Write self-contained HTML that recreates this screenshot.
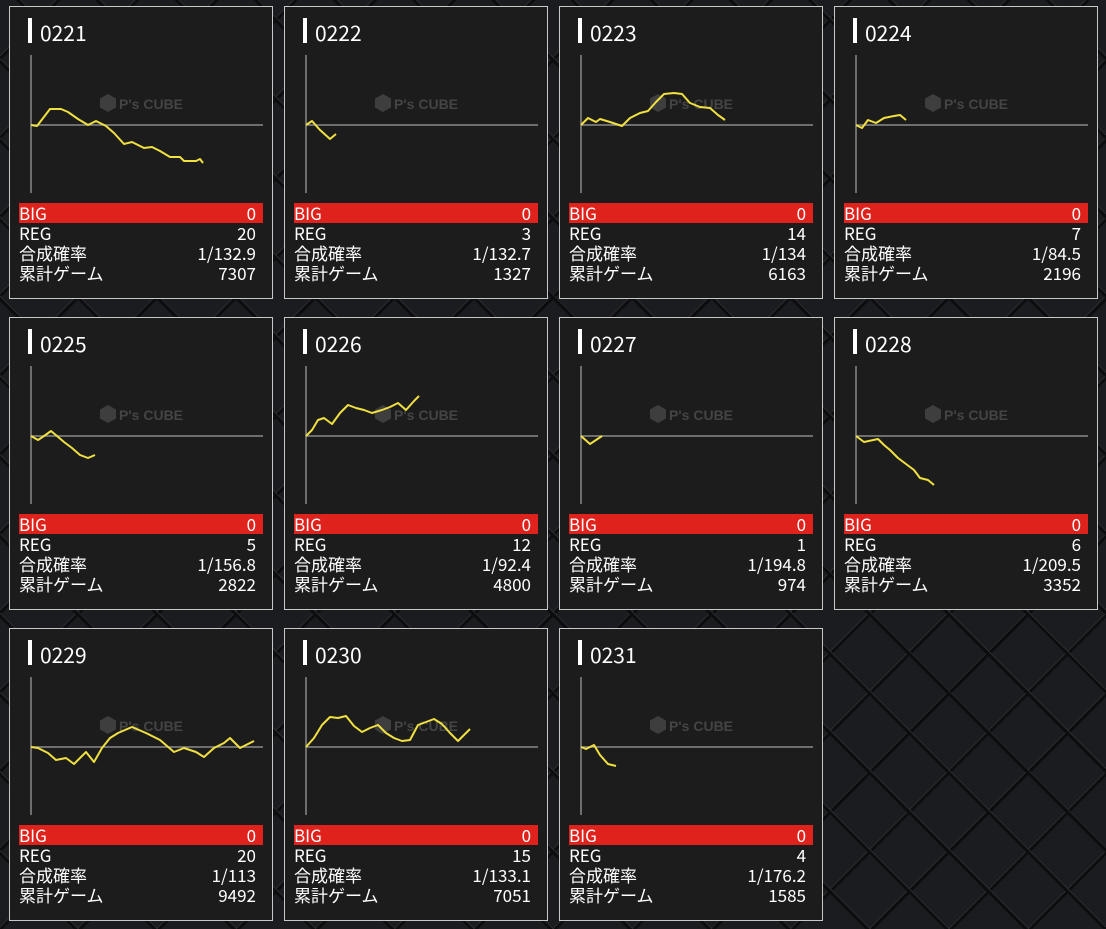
<!DOCTYPE html>
<html><head><meta charset="utf-8"><style>
html,body{margin:0;padding:0}
body{width:1106px;height:929px;position:relative;overflow:hidden;background:#1b1c1f;
background-image:
repeating-linear-gradient(45deg,transparent 0 52px,#0c0d0f 52px 55px,#2a2b2e 55px 56px),
repeating-linear-gradient(-45deg,transparent 0 52px,#0c0d0f 52px 55px,#2a2b2e 55px 56px);
font-family:"Liberation Sans","Noto Sans CJK JP",sans-serif;color:#fff}
.c{position:absolute;width:262px;height:291px;border:1px solid #c8c8c8;background:#1c1c1c}
.bar{position:absolute;left:18px;top:11px;width:4px;height:25px;background:#fff}
.t{position:absolute;left:30px;top:13px;font-size:21px;line-height:26px;font-family:"Noto Sans CJK JP","Liberation Sans",sans-serif}
.wm{position:absolute;left:90px;top:87px;color:#444;font-weight:bold;font-size:14px;font-family:"Liberation Sans",sans-serif}
.wm i{display:inline-block;width:16px;height:18px;background:#3e3e3e;vertical-align:-3px;margin-right:3px;clip-path:polygon(50% 0,100% 25%,100% 75%,50% 100%,0 75%,0 25%)}
.rows{position:absolute;left:9px;top:196px;width:244px;font-family:"Noto Sans CJK JP","Liberation Sans",sans-serif;font-size:17px}
.r{height:20px;line-height:20px;display:flex;justify-content:space-between;padding:0 7px 0 0}
.r.b{background:#e0221c}
svg{position:absolute;left:0;top:0}
</style></head><body>
<div class="c" style="left:9px;top:6px"><div class="bar"></div><div class="t">0221</div><div class="wm"><i></i>P's CUBE</div><div class="rows"><div class="r b"><span>BIG</span><span>0</span></div><div class="r"><span>REG</span><span>20</span></div><div class="r"><span>合成確率</span><span>1/132.9</span></div><div class="r"><span>累計ゲーム</span><span>7307</span></div></div></div>
<div class="c" style="left:284px;top:6px"><div class="bar"></div><div class="t">0222</div><div class="wm"><i></i>P's CUBE</div><div class="rows"><div class="r b"><span>BIG</span><span>0</span></div><div class="r"><span>REG</span><span>3</span></div><div class="r"><span>合成確率</span><span>1/132.7</span></div><div class="r"><span>累計ゲーム</span><span>1327</span></div></div></div>
<div class="c" style="left:559px;top:6px"><div class="bar"></div><div class="t">0223</div><div class="wm"><i></i>P's CUBE</div><div class="rows"><div class="r b"><span>BIG</span><span>0</span></div><div class="r"><span>REG</span><span>14</span></div><div class="r"><span>合成確率</span><span>1/134</span></div><div class="r"><span>累計ゲーム</span><span>6163</span></div></div></div>
<div class="c" style="left:834px;top:6px"><div class="bar"></div><div class="t">0224</div><div class="wm"><i></i>P's CUBE</div><div class="rows"><div class="r b"><span>BIG</span><span>0</span></div><div class="r"><span>REG</span><span>7</span></div><div class="r"><span>合成確率</span><span>1/84.5</span></div><div class="r"><span>累計ゲーム</span><span>2196</span></div></div></div>
<div class="c" style="left:9px;top:317px"><div class="bar"></div><div class="t">0225</div><div class="wm"><i></i>P's CUBE</div><div class="rows"><div class="r b"><span>BIG</span><span>0</span></div><div class="r"><span>REG</span><span>5</span></div><div class="r"><span>合成確率</span><span>1/156.8</span></div><div class="r"><span>累計ゲーム</span><span>2822</span></div></div></div>
<div class="c" style="left:284px;top:317px"><div class="bar"></div><div class="t">0226</div><div class="wm"><i></i>P's CUBE</div><div class="rows"><div class="r b"><span>BIG</span><span>0</span></div><div class="r"><span>REG</span><span>12</span></div><div class="r"><span>合成確率</span><span>1/92.4</span></div><div class="r"><span>累計ゲーム</span><span>4800</span></div></div></div>
<div class="c" style="left:559px;top:317px"><div class="bar"></div><div class="t">0227</div><div class="wm"><i></i>P's CUBE</div><div class="rows"><div class="r b"><span>BIG</span><span>0</span></div><div class="r"><span>REG</span><span>1</span></div><div class="r"><span>合成確率</span><span>1/194.8</span></div><div class="r"><span>累計ゲーム</span><span>974</span></div></div></div>
<div class="c" style="left:834px;top:317px"><div class="bar"></div><div class="t">0228</div><div class="wm"><i></i>P's CUBE</div><div class="rows"><div class="r b"><span>BIG</span><span>0</span></div><div class="r"><span>REG</span><span>6</span></div><div class="r"><span>合成確率</span><span>1/209.5</span></div><div class="r"><span>累計ゲーム</span><span>3352</span></div></div></div>
<div class="c" style="left:9px;top:628px"><div class="bar"></div><div class="t">0229</div><div class="wm"><i></i>P's CUBE</div><div class="rows"><div class="r b"><span>BIG</span><span>0</span></div><div class="r"><span>REG</span><span>20</span></div><div class="r"><span>合成確率</span><span>1/113</span></div><div class="r"><span>累計ゲーム</span><span>9492</span></div></div></div>
<div class="c" style="left:284px;top:628px"><div class="bar"></div><div class="t">0230</div><div class="wm"><i></i>P's CUBE</div><div class="rows"><div class="r b"><span>BIG</span><span>0</span></div><div class="r"><span>REG</span><span>15</span></div><div class="r"><span>合成確率</span><span>1/133.1</span></div><div class="r"><span>累計ゲーム</span><span>7051</span></div></div></div>
<div class="c" style="left:559px;top:628px"><div class="bar"></div><div class="t">0231</div><div class="wm"><i></i>P's CUBE</div><div class="rows"><div class="r b"><span>BIG</span><span>0</span></div><div class="r"><span>REG</span><span>4</span></div><div class="r"><span>合成確率</span><span>1/176.2</span></div><div class="r"><span>累計ゲーム</span><span>1585</span></div></div></div>
<svg width="1106" height="929" viewBox="0 0 1106 929">
<g stroke="#8a8a8a" stroke-width="1.5" fill="none">
<path d="M31 55V193M31 125H263M306 55V193M306 125H538M581 55V193M581 125H813M856 55V193M856 125H1088"/>
<path d="M31 366V504M31 436H263M306 366V504M306 436H538M581 366V504M581 436H813M856 366V504M856 436H1088"/>
<path d="M31 677V815M31 747H263M306 677V815M306 747H538M581 677V815M581 747H813"/>
</g>
<g stroke="#f0e040" stroke-width="2" fill="none" stroke-linejoin="round">
<polyline points="31,125 37,126 50,109 61,109 68,112 78,119 88,125 96,121 106,126 114,133 124,144 132,142 144,148 152,147 160,151 170,157 180,157 184,161 196,161 200,159 203,163"/>
<polyline points="306,125 312,121 320,130 330,139 336,134"/>
<polyline points="581,125 588,118 596,122 600,119 610,122 622,126 630,118 640,113 648,111 656,102 664,94 674,93 682,94 690,103 700,107 710,108 718,115 725,120"/>
<polyline points="856,125 862,128 868,120 876,123 884,118 894,116 900,115 906,120"/>
<polyline points="31,436 38,440 44,436 51,431 57,436 64,442 72,448 80,455 88,458 95,455"/>
<polyline points="306,436 312,430 318,420 324,418 332,424 340,413 348,405 356,408 364,410 372,413 382,410 390,407 398,403 406,410 414,401 419,396"/>
<polyline points="581,436 590,444 602,436"/>
<polyline points="856,436 864,442 878,439 884,445 890,450 898,458 906,464 914,470 920,478 928,480 934,485"/>
<polyline points="31,747 38,748 48,753 56,760 66,758 74,764 86,752 94,762 102,748 110,738 118,733 132,727 146,733 160,740 174,752 184,748 196,752 204,757 214,748 224,743 230,738 240,748 250,743 254,741"/>
<polyline points="306,747 314,738 322,725 330,717 338,718 346,716 354,726 362,732 370,728 378,725 386,733 394,738 402,741 410,740 418,725 426,722 434,719 442,724 450,733 458,741 464,735 470,729"/>
<polyline points="581,747 586,749 594,745 600,755 608,764 616,766"/>
</g>
</svg>
</body></html>
